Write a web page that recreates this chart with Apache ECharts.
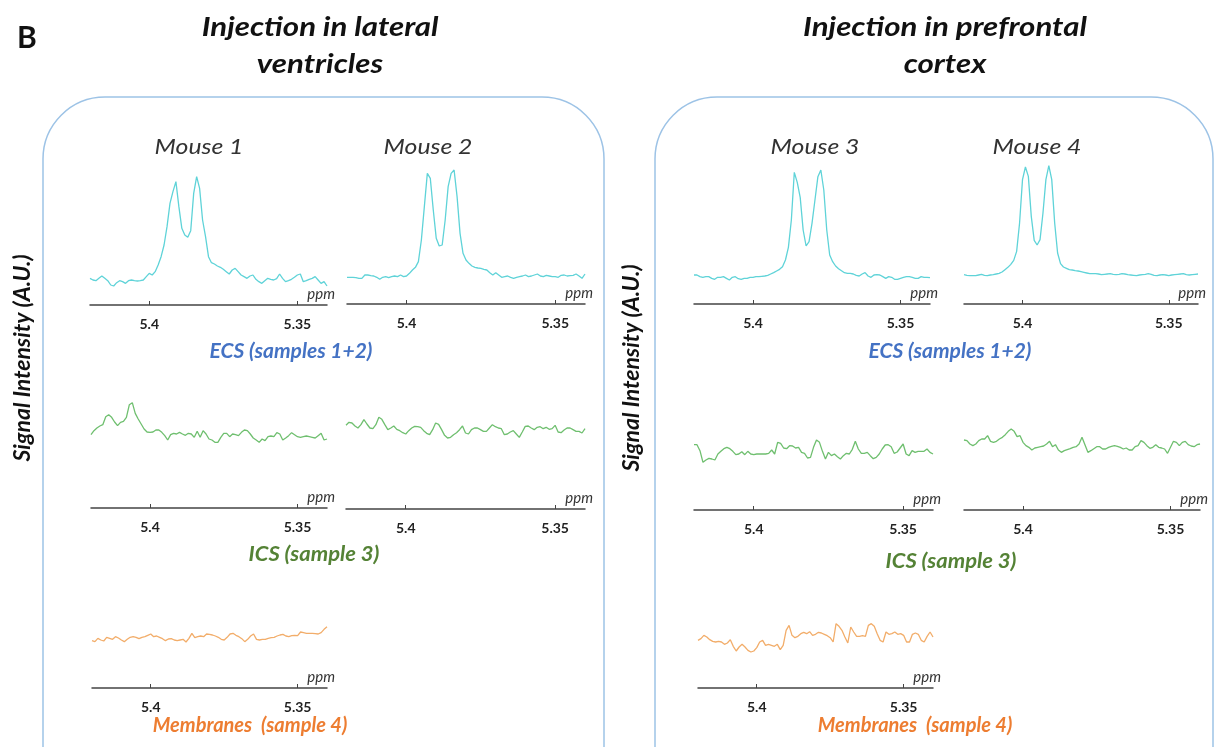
<!DOCTYPE html>
<html>
<head>
<meta charset="utf-8">
<title>Signal intensity spectra</title>
<script src="https://cdn.jsdelivr.net/npm/echarts@6/dist/echarts.min.js"></script>
<style>
  html, body { margin: 0; padding: 0; background: #fff; }
  #chart { width: 1215px; height: 747px; }
</style>
</head>
<body>
<div id="chart"></div>
<script>
// chemical shift (ppm), shared by every spectrum
const ppm = [
  5.42, 5.419, 5.418, 5.417, 5.416, 5.415, 5.414, 5.413, 5.412, 5.411,
  5.41, 5.409, 5.408, 5.407, 5.406, 5.405, 5.404, 5.403, 5.402, 5.401,
  5.4, 5.399, 5.398, 5.397, 5.396, 5.395, 5.394, 5.393, 5.392, 5.391,
  5.39, 5.389, 5.388, 5.387, 5.386, 5.385, 5.384, 5.383, 5.382, 5.381,
  5.38, 5.379, 5.378, 5.377, 5.376, 5.375, 5.374, 5.373, 5.372, 5.371,
  5.37, 5.369, 5.368, 5.367, 5.366, 5.365, 5.364, 5.363, 5.362, 5.361,
  5.36, 5.359, 5.358, 5.357, 5.356, 5.355, 5.354, 5.353, 5.352, 5.351,
  5.35, 5.349, 5.348, 5.347, 5.346, 5.345, 5.344, 5.343, 5.342, 5.341,
  5.34
];
const ppmTicks = [5.4, 5.35];

// signal intensity (A.U.)
const ecsMouse1 = [
  80, 75, 73, 80, 87, 80, 73, 60, 57, 67,
  73, 70, 65, 73, 75, 73, 72, 73, 75, 85,
  95, 90, 100, 120, 145, 180, 235, 305, 340, 370,
  295, 230, 210, 203, 223, 335, 385, 350, 255, 205,
  145, 127, 123, 117, 113, 107, 100, 93, 105, 110,
  100, 90, 85, 80, 87, 90, 77, 70, 65, 73,
  80, 77, 75, 79, 93, 80, 70, 73, 77, 83,
  90, 93, 70, 73, 77, 80, 85, 75, 65, 70,
  57
];
const ecsMouse2 = [
  80, 80, 80, 79, 77, 77, 87, 87, 85, 84,
  80, 74, 80, 82, 79, 82, 84, 82, 87, 82,
  84, 92, 102, 110, 127, 192, 292, 392, 377, 282,
  197, 174, 177, 252, 352, 392, 402, 322, 212, 152,
  132, 122, 114, 110, 108, 107, 104, 102, 94, 87,
  94, 87, 80, 82, 84, 80, 77, 80, 82, 84,
  87, 82, 84, 87, 90, 84, 82, 86, 84, 82,
  82, 80, 86, 87, 84, 85, 86, 90, 84, 77,
  90
];
const ecsMouse3 = [
  87, 87, 82, 80, 82, 82, 77, 74, 80, 80,
  82, 77, 72, 80, 82, 76, 74, 77, 77, 80,
  80, 82, 82, 83, 84, 86, 90, 94, 99, 104,
  112, 132, 170, 252, 395, 365, 320, 222, 174, 187,
  242, 312, 382, 402, 342, 222, 147, 127, 114, 106,
  100, 94, 92, 92, 90, 86, 84, 90, 94, 84,
  80, 87, 88, 87, 82, 77, 82, 80, 74, 74,
  77, 80, 82, 82, 80, 77, 77, 82, 80, 80,
  79
];
const ecsMouse4 = [
  88, 86, 85, 85, 85, 87, 89, 86, 85, 87,
  88, 90, 92, 96, 103, 110, 119, 131, 158, 243,
  373, 411, 383, 263, 191, 177, 193, 273, 373, 415,
  373, 243, 153, 121, 111, 107, 103, 102, 100, 99,
  97, 95, 93, 91, 91, 91, 90, 88, 89, 90,
  91, 89, 88, 89, 91, 90, 88, 87, 86, 85,
  87, 88, 89, 91, 89, 86, 85, 87, 88, 87,
  85, 87, 88, 89, 90, 91, 88, 87, 88, 89,
  90
];
const icsMouse1 = [
  220, 232, 240, 246, 250, 274, 280, 272, 258, 247,
  257, 260, 272, 310, 316, 284, 267, 252, 237, 228,
  227, 228, 234, 234, 227, 217, 204, 220, 224, 222,
  227, 222, 218, 224, 222, 212, 230, 212, 232, 222,
  207, 204, 197, 197, 212, 224, 224, 214, 222, 220,
  217, 227, 234, 232, 222, 210, 204, 197, 207, 202,
  214, 216, 214, 226, 222, 204, 210, 217, 226, 220,
  214, 212, 214, 216, 214, 212, 210, 217, 224, 204,
  207
];
const icsMouse2 = [
  251, 260, 258, 249, 243, 253, 268, 255, 243, 241,
  253, 275, 269, 253, 238, 243, 249, 239, 235, 229,
  225, 235, 243, 248, 247, 245, 235, 227, 223, 238,
  258, 254, 238, 221, 213, 215, 223, 229, 238, 249,
  228, 225, 238, 243, 243, 238, 233, 233, 243, 253,
  247, 243, 241, 223, 225, 231, 235, 225, 215, 231,
  248, 249, 243, 238, 245, 247, 241, 245, 239, 241,
  251, 231, 229, 237, 243, 243, 238, 233, 233, 228,
  241
];
const icsMouse3 = [
  196, 196, 178, 143, 150, 155, 153, 150, 168, 176,
  184, 188, 184, 176, 166, 168, 175, 166, 176, 168,
  166, 168, 168, 168, 168, 170, 180, 168, 203, 200,
  186, 184, 193, 192, 186, 188, 173, 170, 156, 158,
  188, 210, 203, 176, 153, 173, 163, 168, 160, 153,
  163, 170, 168, 182, 206, 183, 170, 170, 173, 163,
  154, 158, 168, 183, 195, 196, 190, 170, 174, 186,
  198, 168, 163, 178, 173, 176, 176, 176, 183, 173,
  168
];
const icsMouse4 = [
  210, 208, 198, 193, 198, 208, 213, 213, 223, 206,
  203, 206, 213, 218, 226, 236, 243, 236, 220, 223,
  203, 193, 188, 180, 186, 188, 190, 192, 198, 206,
  190, 196, 180, 173, 178, 181, 184, 188, 190, 198,
  218, 196, 173, 178, 184, 190, 190, 183, 183, 188,
  191, 193, 191, 188, 183, 186, 180, 180, 190, 193,
  208, 203, 193, 185, 188, 196, 188, 186, 183, 170,
  188, 206, 203, 193, 203, 206, 196, 192, 190, 196,
  198
];
const memMouse1 = [
  142, 139, 149, 144, 141, 152, 149, 146, 154, 150,
  144, 139, 146, 152, 154, 152, 148, 152, 154, 158,
  162, 154, 156, 152, 148, 142, 147, 148, 144, 142,
  144, 146, 138, 149, 164, 151, 154, 156, 154, 162,
  161, 159, 156, 152, 146, 144, 152, 162, 164, 158,
  154, 148, 139, 146, 156, 162, 146, 144, 146, 146,
  149, 151, 152, 156, 159, 161, 156, 154, 157, 158,
  157, 168, 166, 164, 164, 164, 163, 162, 166, 176,
  184
];
const memMouse3 = [
  143, 148, 158, 153, 145, 140, 138, 140, 138, 131,
  135, 145, 125, 111, 123, 131, 123, 113, 108, 111,
  121, 138, 143, 128, 131, 128, 125, 131, 115, 128,
  173, 188, 158, 151, 155, 163, 167, 163, 169, 158,
  161, 167, 165, 161, 157, 151, 138, 193, 185, 173,
  153, 135, 183, 168, 155, 155, 157, 155, 188, 193,
  185, 163, 143, 138, 168, 161, 163, 168, 161, 163,
  158, 138, 138, 161, 165, 161, 143, 138, 155, 168,
  153
];

const ECS_COLOR = '#5fd3d8';
const ICS_COLOR = '#6fbf6f';
const MEM_COLOR = '#f2ad6a';
const FONT = 'Lato';

// one small plot per spectrum: left edge, width, y of the ppm axis line
const panels = [
  { data: ecsMouse1, color: ECS_COLOR, left: 90, width: 237, axisY: 305 },
  { data: ecsMouse2, color: ECS_COLOR, left: 347, width: 238, axisY: 304 },
  { data: ecsMouse3, color: ECS_COLOR, left: 694, width: 236, axisY: 304 },
  { data: ecsMouse4, color: ECS_COLOR, left: 964, width: 234, axisY: 304 },
  { data: icsMouse1, color: ICS_COLOR, left: 91, width: 236, axisY: 508 },
  { data: icsMouse2, color: ICS_COLOR, left: 346, width: 239, axisY: 509 },
  { data: icsMouse3, color: ICS_COLOR, left: 694, width: 239, axisY: 510 },
  { data: icsMouse4, color: ICS_COLOR, left: 964, width: 236, axisY: 510 },
  { data: memMouse1, color: MEM_COLOR, left: 92, width: 235, axisY: 688 },
  { data: memMouse3, color: MEM_COLOR, left: 698, width: 235, axisY: 688 }
];
const PLOT_H = 140;
const Y_MAX = 420;

const grids = [], xAxes = [], yAxes = [], series = [];
panels.forEach((p, i) => {
  grids.push({ left: p.left, width: p.width, top: p.axisY - PLOT_H, height: PLOT_H });
  xAxes.push({
    type: 'value', gridIndex: i, inverse: true, min: 5.34, max: 5.42,
    // inverse axis: 'start' is the right-hand end
    name: 'ppm', nameLocation: 'start', nameGap: 8,
    nameTextStyle: { fontFamily: FONT, fontStyle: 'italic', fontSize: 15, color: '#333',
      align: 'right', verticalAlign: 'bottom', padding: [0, 0, 3, 0] },
    axisLine: { lineStyle: { color: '#444', width: 1.5 } },
    axisTick: { inside: true, length: 4, customValues: ppmTicks, lineStyle: { color: '#444' } },
    axisLabel: { customValues: ppmTicks, margin: 12, fontFamily: FONT, fontWeight: 'bold',
      fontSize: 14, color: '#222', formatter: v => String(v) },
    splitLine: { show: false }
  });
  yAxes.push({ type: 'value', gridIndex: i, min: 0, max: Y_MAX, show: false });
  series.push({
    type: 'line', xAxisIndex: i, yAxisIndex: i, showSymbol: false, silent: true,
    lineStyle: { color: p.color, width: 1.3 },
    data: ppm.map((x, j) => [x, p.data[j]])
  });
});

// the source figure is stretched sideways a little, so text gets a horizontal scale
function label(text, x, y, font, fill, stretch, rotation) {
  return {
    type: 'text', x: x, y: y, rotation: rotation || 0, scaleX: stretch || 1,
    style: { text: text, font: font, fill: fill, textAlign: 'center', textVerticalAlign: 'middle' }
  };
}
const titleFont = `italic bold 26px ${FONT}`;
const mouseFont = `italic 21px ${FONT}`;
const groupFont = `italic bold 20px ${FONT}`;
const sideFont = `italic bold 23px ${FONT}`;

const graphics = [
  { type: 'rect', shape: { x: 43, y: 97, width: 561, height: 720, r: 62 },
    style: { fill: 'none', stroke: '#9dc3e6', lineWidth: 1.5 } },
  { type: 'rect', shape: { x: 655, y: 97, width: 558, height: 720, r: 62 },
    style: { fill: 'none', stroke: '#9dc3e6', lineWidth: 1.5 } },
  { type: 'text', x: 17, y: 38, style: { text: 'B', font: `bold 30px ${FONT}`, fill: '#111',
      textAlign: 'left', textVerticalAlign: 'middle' } },
  label('Injection in lateral', 320, 28, titleFont, '#111', 1.2),
  label('ventricles', 320, 65, titleFont, '#111', 1.2),
  label('Injection in prefrontal', 945, 28, titleFont, '#111', 1.2),
  label('cortex', 945, 65, titleFont, '#111', 1.2),
  label('Mouse 1', 199, 147, mouseFont, '#333', 1.18),
  label('Mouse 2', 428, 147, mouseFont, '#333', 1.18),
  label('Mouse 3', 815, 147, mouseFont, '#333', 1.18),
  label('Mouse 4', 1037, 147, mouseFont, '#333', 1.18),
  label('ECS (samples 1+2)', 291, 352, groupFont, '#4472c4', 1.05),
  label('ECS (samples 1+2)', 950, 352, groupFont, '#4472c4', 1.05),
  label('ICS (sample 3)', 314, 555, groupFont, '#548235', 1.1),
  label('ICS (sample 3)', 951, 562, groupFont, '#548235', 1.1),
  label('Membranes  (sample 4)', 250, 726, groupFont, '#ed7d31'),
  label('Membranes  (sample 4)', 915, 726, groupFont, '#ed7d31'),
  label('Signal Intensity (A.U.)', 23, 358, sideFont, '#111', 1, Math.PI / 2),
  label('Signal Intensity (A.U.)', 632, 368, sideFont, '#111', 1, Math.PI / 2)
];

const chart = echarts.init(document.getElementById('chart'));
chart.setOption({
  animation: false,
  grid: grids,
  xAxis: xAxes,
  yAxis: yAxes,
  series: series,
  graphic: graphics
});
</script>
</body>
</html>
